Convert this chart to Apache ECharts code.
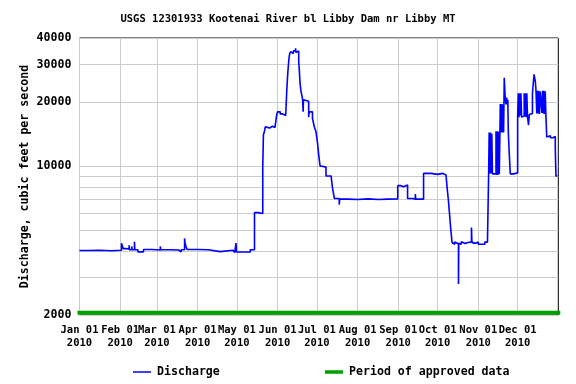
<!DOCTYPE html>
<html>
<head>
<meta charset="utf-8">
<script src="https://cdn.jsdelivr.net/npm/echarts@6/dist/echarts.min.js"></script>
<style>html,body{margin:0;padding:0;background:#fff;}#c{width:576px;height:384px;}</style>
</head>
<body>
<div id="c"></div>
<script>
// ---- data (days since 2010-01-01 00:00 UTC, discharge in cfs; each value holds until the next day entry) ----
const dischargeDays = [
  0, 8, 15, 24, 32.0, 32.6, 33.3, 35.0, 37.8, 38.1, 39.8, 40.1, 41.9, 42.2, 44.5, 46.8, 47.2, 48.8, 55,
  61.6, 61.9, 70, 75.5, 77.5, 80.1, 80.5, 81.2, 82.0, 90, 98.2, 107.2, 117, 118.3, 119.3, 119.6, 125, 130.2,
  133.4, 136, 139.7, 140.2, 141, 141.6, 143, 145, 147, 149, 150.3, 151, 153, 155, 156.5, 157.2,
  158.0, 158.7, 159.5, 160.1, 161, 162, 163, 164.7, 165, 166.4, 167.1, 167.6, 168.1, 168.8, 170.1, 170.5, 170.7,
  172, 174.7, 175.1, 177.6, 179, 180.3, 181.5, 182.3, 183.4, 185, 187.9, 191.8, 192.8, 194.3, 198.0, 198.3,
  205, 212, 220, 228, 235, 242.6, 245, 247, 250.1, 254, 256, 256.3, 262.3, 268, 273, 277, 279.4,
  280.2, 281.1, 281.9, 283.1, 284, 285, 286, 287, 288.9, 289.1, 290, 291, 292.5, 294, 296, 297.5, 298.8, 299.1,
  300, 302, 304, 306, 307.5, 309, 311, 311.9,
  312.3, 312.8, 313.3, 313.8, 314.3, 314.8, 317.5, 318, 318.5, 319, 319.5, 320, 320.5,
  320.8, 321.3, 321.8, 322.3, 322.8, 323.3, 323.8, 324.5, 325.1, 325.6, 326.1, 326.5, 326.9, 327.6, 328.4, 331,
  334, 334.5, 335, 335.5, 336, 336.5, 337, 337.5, 339, 339.5, 340, 340.5, 341, 341.5, 342.3, 342.9, 343.2,
  345.3, 346.5, 347.5, 348, 348.6, 349.1, 349.6, 350.1, 350.6, 351.2, 352.5, 353, 353.5, 354, 354.5, 355, 355.5, 356.2,
  356.8, 359, 361, 362.7, 363.2, 363.8, 364.4
];
const dischargeCfs = [
  4020, 4030, 4010, 4030, 4350, 4300, 4100, 4080, 4250, 4050, 4200, 4050, 4420, 4050, 3960, 3880, 3960, 4060, 4040,
  4200, 4050, 4040, 3960, 4050, 4580, 4350, 4200, 4060, 4050, 3970, 4030, 4030, 3930, 4350, 3950, 3960, 4050,
  6050, 6000, 10000, 14000, 14600, 15300, 15100, 15400, 15200, 15000, 17400, 18000, 17600, 17900, 17300, 17600,
  22600, 27000, 31200, 33500, 34500, 33800, 34800, 35800, 34200, 34800, 31000, 28000, 24600, 22600, 20600, 18000, 20500,
  20200, 17000, 18000, 16800, 15300, 14500, 12800, 11400, 10000, 9900, 9000, 9150, 7950, 7050, 6600, 7000,
  6970, 7020, 6980, 7000, 7020, 8100, 8000, 8150, 7050, 7000, 7400, 7000, 9250, 9150, 9250, 9100, 9200,
  7950, 7050, 6150, 5000, 4380, 4300, 4400, 4320, 2800, 4350, 4300, 4420, 4330, 4380, 4300, 4400, 5150, 4450,
  4350, 4400, 4300, 4380, 4300, 4400, 4450, 9250,
  14400, 9250, 14400, 9250, 14200, 9200, 14600, 9100, 14600, 9100, 14500, 9200, 14600,
  19600, 14400, 19600, 14400, 19500, 14400, 26000, 21000, 19500, 21000, 19500, 20500, 14400, 11500, 9200, 9300,
  17200, 22000, 17000, 22000, 17300, 22000, 17000, 17200, 22000, 17100, 22000, 17000, 22000, 17200, 15600, 17500, 17700,
  22000, 27000, 25000, 22600, 17700, 22600, 17700, 22600, 17600, 22400, 17800, 22600, 17700, 22600, 17600, 22500, 17700,
  13700, 13900, 13600, 13800, 12100, 9000, 9000
];
const approvedDays = [0, 365];
const approvedLevel = [2050, 2050];
const monthNames = ['Jan','Feb','Mar','Apr','May','Jun','Jul','Aug','Sep','Oct','Nov','Dec'];
const yTickValues = [2000, 3000, 4000, 5000, 6000, 7000, 8000, 9000, 10000, 20000, 30000, 40000];
const yLabelValues = [2000, 10000, 20000, 30000, 40000];
const yMin = 2000, yMax = 40000;

// ---- build ----
const DAY = 86400000;
const t0 = Date.UTC(2010, 0, 1);
const t1 = Date.UTC(2011, 0, 1);
const monthStarts = monthNames.map((m, i) => Date.UTC(2010, i, 1));
const lg = v => Math.log10(v);
const discharge = dischargeDays.map((d, i) => [t0 + d * DAY, lg(dischargeCfs[i])]);
const approved = approvedDays.map((d, i) => [t0 + d * DAY, lg(approvedLevel[i])]);

const FONT = 'DejaVu Sans Mono';
const chart = echarts.init(document.getElementById('c'), null, {renderer: 'canvas'});
chart.setOption({
  animation: false,
  backgroundColor: '#ffffff',
  title: {
    text: 'USGS 12301933 Kootenai River bl Libby Dam nr Libby MT',
    left: 'center', top: 9,
    textStyle: {fontFamily: FONT, fontSize: 10.5, fontWeight: 'bold', color: '#000'}
  },
  legend: [
    {
      left: 128, top: 361, itemWidth: 18, itemHeight: 1.5, itemGap: 6,
      icon: 'rect',
      data: [{name: 'Discharge', itemStyle: {color: '#0000ff'}}],
      textStyle: {fontFamily: FONT, fontSize: 11.6, fontWeight: 'bold', color: '#000', padding: [0,0,0,1]}
    },
    {
      left: 320, top: 361, itemWidth: 18, itemHeight: 3.5, itemGap: 6,
      icon: 'rect',
      data: [{name: 'Period of approved data', itemStyle: {color: '#00a000'}}],
      textStyle: {fontFamily: FONT, fontSize: 11.6, fontWeight: 'bold', color: '#000', padding: [0,0,0,1]}
    }
  ],
  grid: {left: 79.5, right: 17.7, top: 38, bottom: 69, show: true, borderColor: '#000', borderWidth: 1, backgroundColor: 'transparent', containLabel: false},
  xAxis: {
    type: 'value', min: t0, max: t1,
    axisLine: {show: false},
    axisTick: {show: false, customValues: monthStarts},
    splitLine: {show: true, lineStyle: {color: '#cccccc', width: 1}},
    axisLabel: {
      customValues: monthStarts,
      margin: 9,
      lineHeight: 13,
      fontFamily: FONT, fontSize: 10.5, fontWeight: 'bold', color: '#000',
      formatter: v => monthNames[new Date(v).getUTCMonth()] + ' 01\n' + new Date(v).getUTCFullYear(),
      hideOverlap: false
    }
  },
  yAxis: {
    type: 'value', min: lg(yMin), max: lg(yMax),
    name: 'Discharge, cubic feet per second',
    nameLocation: 'middle', nameGap: 49, nameRotate: 90, nameMoveOverlap: false,
    nameTextStyle: {fontFamily: FONT, fontSize: 11.6, fontWeight: 'bold', color: '#000'},
    axisLine: {show: false},
    axisTick: {show: false, customValues: yTickValues.map(lg)},
    splitLine: {show: true, lineStyle: {color: '#cccccc', width: 1}},
    axisLabel: {
      customValues: yLabelValues.map(lg),
      margin: 8,
      fontFamily: FONT, fontSize: 11.6, fontWeight: 'bold', color: '#000',
      formatter: v => String(Math.round(Math.pow(10, v) / 1000) * 1000)
    }
  },
  series: [
    {
      name: 'Discharge', type: 'line', data: discharge, step: 'end',
      symbol: 'none', color: '#0000ff',
      lineStyle: {color: '#0000ff', width: 1.6},
      z: 3
    },
    {
      name: 'Period of approved data', type: 'line', data: approved,
      symbol: 'none', color: '#00a000', clip: false,
      lineStyle: {color: '#00a000', width: 4, cap: 'square'},
      z: 2
    }
  ]
});
</script>
</body>
</html>
